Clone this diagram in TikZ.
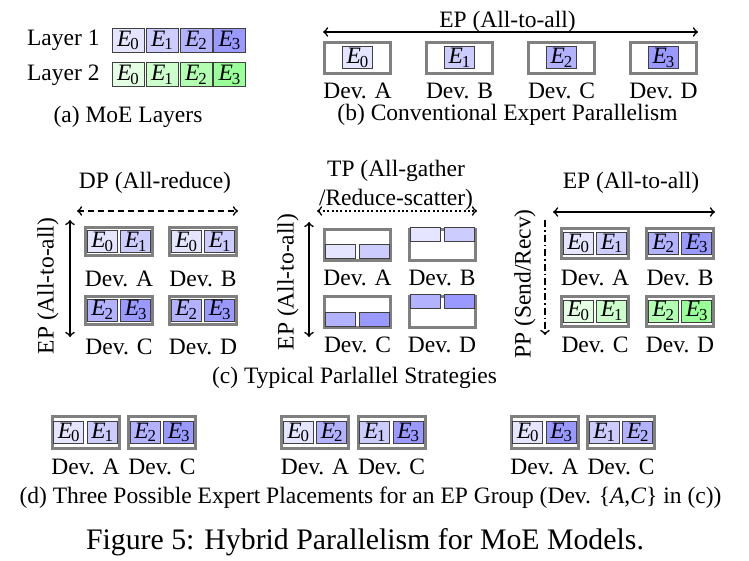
\documentclass[tikz,border=0pt]{standalone}
\usepackage{fontspec}
\setmainfont{Liberation Serif}
\usetikzlibrary{arrows,positioning}
\newcommand\ex[1]{\textit{E}\kern-0.5pt\raisebox{-1.8pt}{\fontsize{8.4}{9}\selectfont #1}}

\begin{document}
\begin{tikzpicture}[x=0.5pt, y=-0.5pt, >=to, line width=0.8pt,
font=\fontsize{11.75}{14.5}\selectfont,
dev/.style={draw=gray, line width=1.5pt, minimum width=33.5pt, minimum height=15pt, inner sep=0pt},
ex/.style={draw=black!75, line width=0.5pt, minimum width=15pt, minimum height=11pt, inner sep=0pt},
lex/.style={ex, minimum width=16pt, minimum height=12pt},
shard/.style={ex, minimum height=7pt},
b0/.style={fill=blue!10}, b1/.style={fill=blue!20},
b2/.style={fill=blue!30}, b3/.style={fill=blue!40},
g0/.style={fill=green!10}, g1/.style={fill=green!20},
g2/.style={fill=green!30}, g3/.style={fill=green!40}]

\useasboundingbox (0,0) rectangle (749,561);

% (a) MoE layers
\node [anchor=east] (layer1) at (107,40) {Layer 1};
\node [anchor=east] (layer2) at (107,75) {Layer 2};
\node [lex,b0] (l1e0) at (128,40.5) {\ex0};
\node [lex,b1] (l1e1) at (162,40.5) {\ex1};
\node [lex,b2] (l1e2) at (196,40.5) {\ex2};
\node [lex,b3] (l1e3) at (229.5,40.5) {\ex3};
\node [lex,g0] (l2e0) at (128,75) {\ex0};
\node [lex,g1] (l2e1) at (162,75) {\ex1};
\node [lex,g2] (l2e2) at (196,75) {\ex2};
\node [lex,g3] (l2e3) at (229.5,75) {\ex3};
\node (capa) at (128,117) {(a) MoE Layers};

% (b) conventional EP
\node (epb) at (507.5,22) {EP (All-to-all)};
\coordinate (epbL) at (323,32);
\coordinate (epbR) at (698,32);
\draw [<->] (epbL) -- (epbR);
\node [dev, minimum width=33pt, minimum height=15.5pt] (bA) at (357.5,58) {};
\node [dev, minimum width=33pt, minimum height=15.5pt] (bB) at (459.5,58) {};
\node [dev, minimum width=33pt, minimum height=15.5pt] (bC) at (561.5,58) {};
\node [dev, minimum width=33pt, minimum height=15.5pt] (bD) at (663.5,58) {};
\node [ex,b0] (bAe) at (bA) {\ex0};
\node [ex,b1] (bBe) at (bB) {\ex1};
\node [ex,b2] (bCe) at (bC) {\ex2};
\node [ex,b3] (bDe) at (bD) {\ex3};
\node (bAl) at (357.5,91) {Dev. A};
\node (bBl) at (459.5,91) {Dev. B};
\node (bCl) at (561.5,91) {Dev. C};
\node (bDl) at (663.5,91) {Dev. D};
\node (capb) at (507.5,115) {(b) Conventional Expert Parallelism};

% (c) DP + EP
\node (dp) at (155,183) {DP (All-reduce)};
\coordinate (dpL) at (77,211);
\coordinate (dpR) at (238,211);
\draw [<->, dashed, dash pattern=on 3pt off 2pt] (dpL) -- (dpR);
\coordinate (dpT) at (70,220);
\coordinate (dpB) at (70,337);
\draw [<->] (dpT) -- (dpB);
\node [rotate=90] (dpep) at (48,286) {EP (All-to-all)};
\node [dev, minimum height=14pt] (dA) at (119,242) {};
\node [dev, minimum height=14pt] (dB) at (203,242) {};
\node [dev, minimum height=14pt] (dC) at (119,310) {};
\node [dev, minimum height=14pt] (dD) at (203,310) {};
\node [ex,b0] (dA0) at (102.25,242) {\ex0};
\node [ex,b1] (dA1) at (135.75,242) {\ex1};
\node [ex,b0] (dB0) at (186.25,242) {\ex0};
\node [ex,b1] (dB1) at (219.75,242) {\ex1};
\node [ex,b2] (dC0) at (102.25,310) {\ex2};
\node [ex,b3] (dC1) at (135.75,310) {\ex3};
\node [ex,b2] (dD0) at (186.25,310) {\ex2};
\node [ex,b3] (dD1) at (219.75,310) {\ex3};
\node (dAl) at (119,279) {Dev. A};
\node (dBl) at (203,279) {Dev. B};
\node (dCl) at (119,347) {Dev. C};
\node (dDl) at (203,347) {Dev. D};

% (c) TP + EP
\node [align=center] (tp) at (396,185) {TP (All-gather\\/Reduce-scatter)};
\coordinate (tpL) at (317,211);
\coordinate (tpR) at (477,211);
\draw [<->, dotted, dash pattern=on 1pt off 1.2pt] (tpL) -- (tpR);
\coordinate (tpT) at (309,222);
\coordinate (tpB) at (309,337);
\draw [<->] (tpT) -- (tpB);
\node [rotate=90] (tpep) at (288,282) {EP (All-to-all)};
\node [dev, minimum width=33pt, minimum height=15.5pt] (tA) at (357.5,245) {};
\node [dev, minimum width=33pt, minimum height=15.5pt] (tB) at (442,245) {};
\node [dev, minimum width=33pt, minimum height=15.5pt] (tC) at (357.5,312) {};
\node [dev, minimum width=33pt, minimum height=15.5pt] (tD) at (442,312) {};
\node [shard,b0] (tA0) at (340.5,251.5) {};
\node [shard,b1] (tA1) at (374,251.5) {};
\node [shard,b0] (tB0) at (425,234.5) {};
\node [shard,b1] (tB1) at (459,234.5) {};
\node [shard,b2] (tC0) at (340.5,319.5) {};
\node [shard,b3] (tC1) at (374,319.5) {};
\node [shard,b2] (tD0) at (425,301.5) {};
\node [shard,b3] (tD1) at (459,301.5) {};
\node (tAl) at (357.5,278) {Dev. A};
\node (tBl) at (442,278) {Dev. B};
\node (tCl) at (357.5,345) {Dev. C};
\node (tDl) at (442,345) {Dev. D};

% (c) EP + PP
\node (epc) at (631,183) {EP (All-to-all)};
\coordinate (epcL) at (553,212);
\coordinate (epcR) at (715,212);
\draw [<->] (epcL) -- (epcR);
\coordinate (ppT) at (545,220);
\coordinate (ppB) at (545,335);
\draw [->, dash pattern=on 3.5pt off 1.5pt on 0.8pt off 1.5pt] (ppT) -- (ppB);
\node [rotate=90] (pp) at (525,284) {PP (Send/Recv)};
\node [dev, minimum height=15pt] (pA) at (595,243.5) {};
\node [dev, minimum height=15pt] (pB) at (680,243.5) {};
\node [dev, minimum height=15pt] (pC) at (595,311) {};
\node [dev, minimum height=15pt] (pD) at (680,311) {};
\node [ex,b0] (pA0) at (578.25,243.5) {\ex0};
\node [ex,b1] (pA1) at (611.75,243.5) {\ex1};
\node [ex,b2] (pB0) at (663.25,243.5) {\ex2};
\node [ex,b3] (pB1) at (696.75,243.5) {\ex3};
\node [ex,g0] (pC0) at (578.25,311) {\ex0};
\node [ex,g1] (pC1) at (611.75,311) {\ex1};
\node [ex,g2] (pD0) at (663.25,311) {\ex2};
\node [ex,g3] (pD1) at (696.75,311) {\ex3};
\node (pAl) at (595,278) {Dev. A};
\node (pBl) at (680,278) {Dev. B};
\node (pCl) at (595,345) {Dev. C};
\node (pDl) at (680,345) {Dev. D};
\node (capc) at (354.5,378) {(c) Typical Parlallel Strategies};

% (d) three placements
\node [dev, minimum height=16pt] (x1A) at (85.5,432.5) {};
\node [dev, minimum height=16pt] (x1C) at (162,432.5) {};
\node [ex,b0] (x1A0) at (68.75,432.5) {\ex0};
\node [ex,b1] (x1A1) at (102.25,432.5) {\ex1};
\node [ex,b2] (x1C0) at (145.25,432.5) {\ex2};
\node [ex,b3] (x1C1) at (178.75,432.5) {\ex3};
\node (x1Al) at (85.5,467) {Dev. A};
\node (x1Cl) at (162,467) {Dev. C};

\node [dev, minimum height=16pt] (x2A) at (315,432.5) {};
\node [dev, minimum height=16pt] (x2C) at (391.5,432.5) {};
\node [ex,b0] (x2A0) at (298.25,432.5) {\ex0};
\node [ex,b2] (x2A1) at (331.75,432.5) {\ex2};
\node [ex,b1] (x2C0) at (374.75,432.5) {\ex1};
\node [ex,b3] (x2C1) at (408.25,432.5) {\ex3};
\node (x2Al) at (315,467) {Dev. A};
\node (x2Cl) at (391.5,467) {Dev. C};

\node [dev, minimum height=16pt] (x3A) at (544.5,432.5) {};
\node [dev, minimum height=16pt] (x3C) at (621,432.5) {};
\node [ex,b0] (x3A0) at (527.75,432.5) {\ex0};
\node [ex,b3] (x3A1) at (561.25,432.5) {\ex3};
\node [ex,b1] (x3C0) at (604.25,432.5) {\ex1};
\node [ex,b2] (x3C1) at (637.75,432.5) {\ex2};
\node (x3Al) at (544.5,467) {Dev. A};
\node (x3Cl) at (621,467) {Dev. C};

\node (capd) at (370.5,498) {(d) Three Possible Expert Placements for an EP Group (Dev. \{\textit{A},\textit{C}\} in (c))};
\node [font=\fontsize{14.9}{18}\selectfont] (fig) at (365,542) {Figure 5: Hybrid Parallelism for MoE Models.};

\end{tikzpicture}
\end{document}
